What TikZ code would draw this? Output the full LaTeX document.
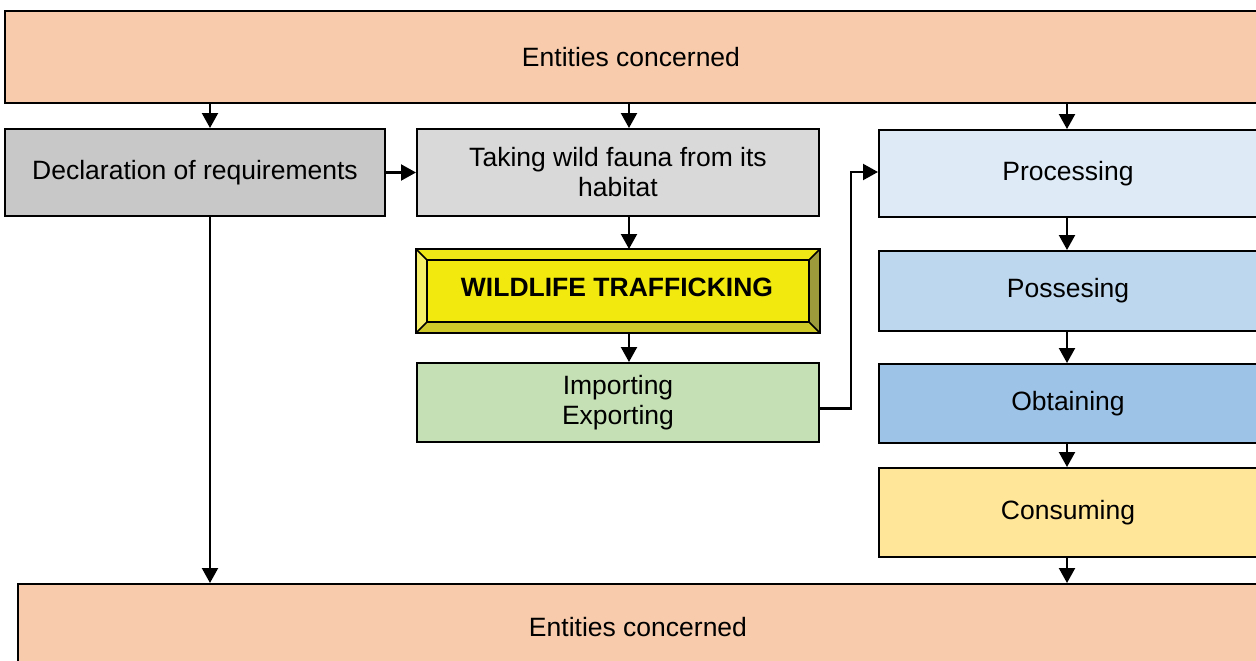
\documentclass[tikz,border=0pt]{standalone}
\usepackage{fontspec}
\setmainfont{Liberation Sans}
\usetikzlibrary{arrows.meta,calc}
\definecolor{peach}{HTML}{F7CBAC}
\definecolor{declgray}{HTML}{C8C8C8}
\definecolor{takegray}{HTML}{D9D9D9}
\definecolor{wyellow}{HTML}{F2E90F}
\definecolor{bevL}{HTML}{F5EF6A}
\definecolor{bevT}{HTML}{F0E716}
\definecolor{bevR}{HTML}{9C9A3A}
\definecolor{bevB}{HTML}{CFC92A}
\definecolor{impgreen}{HTML}{C5E0B4}
\definecolor{procblue}{HTML}{DEEBF7}
\definecolor{possblue}{HTML}{BDD7EE}
\definecolor{obtblue}{HTML}{9DC3E6}
\definecolor{consyellow}{HTML}{FFE699}
\tikzset{
  box/.style={draw=black, line width=2pt, rectangle, align=center, inner sep=0pt,
    font=\fontsize{26.5}{30}\selectfont, text=black},
  arr/.style={line width=2.2pt, -{Triangle[length=15pt,width=16pt]}}
}
\begin{document}
\begin{tikzpicture}[x=1pt,y=-1pt]
\useasboundingbox (0,0) rectangle (1256,661);
\fill[white] (0,0) rectangle (1256,661);
% nodes
\node[box, fill=peach, minimum width=1252pt, minimum height=92pt] (top) at (631,57) {Entities concerned};
\node[box, fill=peach, minimum width=1240pt, minimum height=86pt] (bot) at (638,627) {Entities concerned};
\node[box, fill=declgray, minimum width=380pt, minimum height=87pt] (decl) at (195,172.5) {Declaration of requirements};
\node[box, fill=takegray, minimum width=402pt, minimum height=87pt] (take) at (618,172.5) {Taking wild fauna from its\\habitat};
\node[box, fill=wyellow, minimum width=402pt, minimum height=82pt] (wt) at (618,291) {};
\node[box, fill=impgreen, minimum width=402pt, minimum height=79pt] (imp) at (618,402.5) {Importing\\Exporting};
\node[box, fill=procblue, minimum width=378pt, minimum height=87pt] (proc) at (1068,173.5) {Processing};
\node[box, fill=possblue, minimum width=378pt, minimum height=80pt] (poss) at (1068,291) {Possesing};
\node[box, fill=obtblue, minimum width=378pt, minimum height=79pt] (obt) at (1068,403.5) {Obtaining};
\node[box, fill=consyellow, minimum width=378pt, minimum height=89pt] (cons) at (1068,512.5) {Consuming};
% bevel of WILDLIFE TRAFFICKING
\coordinate (wNW) at (wt.north west);
\coordinate (wNE) at (wt.north east);
\coordinate (wSW) at (wt.south west);
\coordinate (wSE) at (wt.south east);
\coordinate (iNW) at ($(wNW)+(11,11)$);
\coordinate (iNE) at ($(wNE)+(-11,11)$);
\coordinate (iSW) at ($(wSW)+(11,-11)$);
\coordinate (iSE) at ($(wSE)+(-11,-11)$);
\fill[bevT] (wNW) -- (wNE) -- (iNE) -- (iNW) -- cycle;
\fill[bevL] (wNW) -- (iNW) -- (iSW) -- (wSW) -- cycle;
\fill[bevR] (wNE) -- (wSE) -- (iSE) -- (iNE) -- cycle;
\fill[bevB] (wSW) -- (iSW) -- (iSE) -- (wSE) -- cycle;
\draw[line width=2pt, fill=wyellow] (iNW) rectangle (iSE);
\draw[line width=1.6pt] (wNW) -- (iNW) (wNE) -- (iNE) (wSW) -- (iSW) (wSE) -- (iSE);
\draw[line width=2pt] (wNW) rectangle (wSE);
\node[font=\fontsize{26.5}{30}\selectfont\bfseries, text=black] (wtl) at (617,287) {WILDLIFE TRAFFICKING};
% connector x positions
\coordinate (xa) at (210,0);
\coordinate (xb) at (629,0);
\coordinate (xc) at (1067,0);
\coordinate (jog) at (851,0);
% connectors
\draw[arr] (top.south -| xa) -- (decl.north -| xa);
\draw[arr] (top.south -| xb) -- (take.north -| xb);
\draw[arr] (top.south -| xc) -- (proc.north -| xc);
\draw[arr] (decl.east) -- (take.west);
\draw[arr] (take.south -| xb) -- (wt.north -| xb);
\draw[arr] (wt.south -| xb) -- (imp.north -| xb);
\draw[arr] ($(imp.east)+(0,6)$) -- ($(imp.east -| jog)+(0,6)$) |- ($(proc.west)+(0,-1.5)$);
\draw[arr] (proc.south -| xc) -- (poss.north -| xc);
\draw[arr] (poss.south -| xc) -- (obt.north -| xc);
\draw[arr] (obt.south -| xc) -- (cons.north -| xc);
\draw[arr] (cons.south -| xc) -- (bot.north -| xc);
\draw[arr] (decl.south -| xa) -- (bot.north -| xa);
\end{tikzpicture}
\end{document}
